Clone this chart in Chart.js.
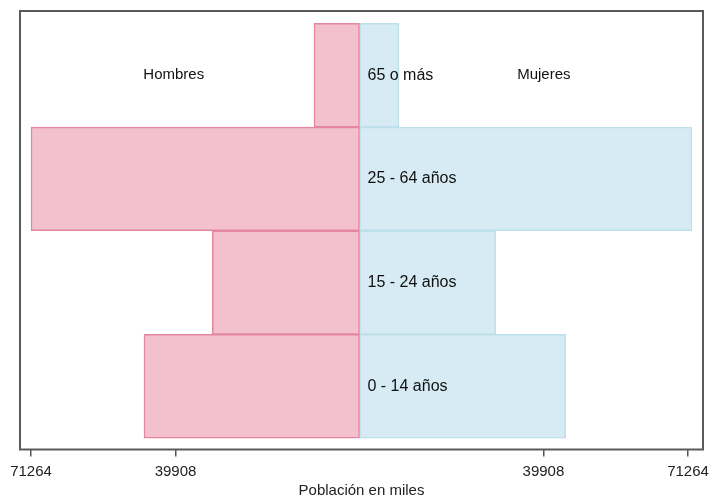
<!DOCTYPE html>
<html>
<head>
<meta charset="utf-8">
<script src="https://cdn.jsdelivr.net/npm/chart.js@4"></script>
<style>
  html, body { margin: 0; padding: 0; background: #fff; }
  #wrap { width: 709px; height: 497px; }
</style>
</head>
<body>
<div id="wrap"><canvas id="pyramid"></canvas></div>
<script>
// grupos de edad, de abajo hacia arriba
const ageGroups = ['0 - 14 años', '15 - 24 años', '25 - 64 años', '65 o más']
const hombres = [46750, 31930, 71264, 9870]
const mujeres = [44730, 29550, 72130, 8570]
const tickValues = [-71264, -39908, 39908, 71264]
const sexLabels = ['Hombres', 'Mujeres']

const font = 'Liberation Sans, Arial, sans-serif'

const toPoints = (vals, sign) => vals.map((v, i) => ({ x: sign * v, y: i }))

// marco y etiquetas dentro del area
const pyramidText = {
    id: 'pyramidText',
    afterDatasetsDraw(chart) {
        const { ctx, chartArea, scales: { x, y } } = chart
        ctx.save()
        ctx.strokeStyle = '#5a5a5a'
        ctx.lineWidth = 2
        ctx.strokeRect(chartArea.left, chartArea.top, chartArea.right - chartArea.left, chartArea.bottom - chartArea.top)

        ctx.fillStyle = '#111'
        ctx.textBaseline = 'middle'
        ctx.textAlign = 'left'
        ctx.font = '16px ' + font
        const x0 = x.getPixelForValue(0)
        ageGroups.forEach((g, i) => {
            ctx.fillText(g, x0 + 8, y.getPixelForValue(i))
        })

        ctx.textAlign = 'center'
        ctx.font = '15px ' + font
        const top = y.getPixelForValue(ageGroups.length - 1)
        ctx.fillText(sexLabels[0], x.getPixelForValue(-40300), top)
        ctx.fillText(sexLabels[1], x.getPixelForValue(40000), top)
        ctx.restore()
    }
}

new Chart(document.getElementById('pyramid'), {
    type: 'bar',
    data: {
        datasets: [
            {
                label: sexLabels[0],
                data: toPoints(hombres, -1),
                backgroundColor: '#f2c1cd',
                borderColor: '#e4869f',
                borderWidth: 1.5,
                borderSkipped: false,
                barPercentage: 1,
                categoryPercentage: 1
            },
            {
                label: sexLabels[1],
                data: toPoints(mujeres, 1),
                backgroundColor: '#d6ebf3',
                borderColor: '#bde0eb',
                borderWidth: 1.5,
                borderSkipped: false,
                barPercentage: 1,
                categoryPercentage: 1
            }
        ]
    },
    options: {
        indexAxis: 'y',
        responsive: true,
        maintainAspectRatio: false,
        animation: false,
        layout: { padding: { left: 20, right: 6, top: 11, bottom: 0 } },
        plugins: {
            legend: { display: false },
            tooltip: { enabled: false }
        },
        scales: {
            x: {
                type: 'linear',
                stacked: true,
                min: -73650,
                max: 74520,
                border: { display: false },
                grid: {
                    drawOnChartArea: false,
                    tickLength: 7,
                    color: '#555',
                    lineWidth: 1.5
                },
                afterBuildTicks: scale => {
                    scale.ticks = tickValues.map(v => ({ value: v }))
                },
                ticks: {
                    padding: 0,
                    color: '#222',
                    font: { family: font, size: 15, lineHeight: 2.1 },
                    maxRotation: 0,
                    autoSkip: false,
                    callback: v => String(Math.abs(v))
                },
                title: {
                    display: true,
                    text: 'Población en miles',
                    color: '#222',
                    font: { family: font, size: 15 },
                    padding: { top: -6, bottom: -3 }
                }
            },
            y: {
                type: 'linear',
                stacked: true,
                display: false,
                offset: false,
                min: -0.61,
                max: 3.62,
                afterBuildTicks: scale => {
                    scale.ticks = ageGroups.map((g, i) => ({ value: i }))
                }
            }
        }
    },
    plugins: [pyramidText]
})
</script>
</body>
</html>
